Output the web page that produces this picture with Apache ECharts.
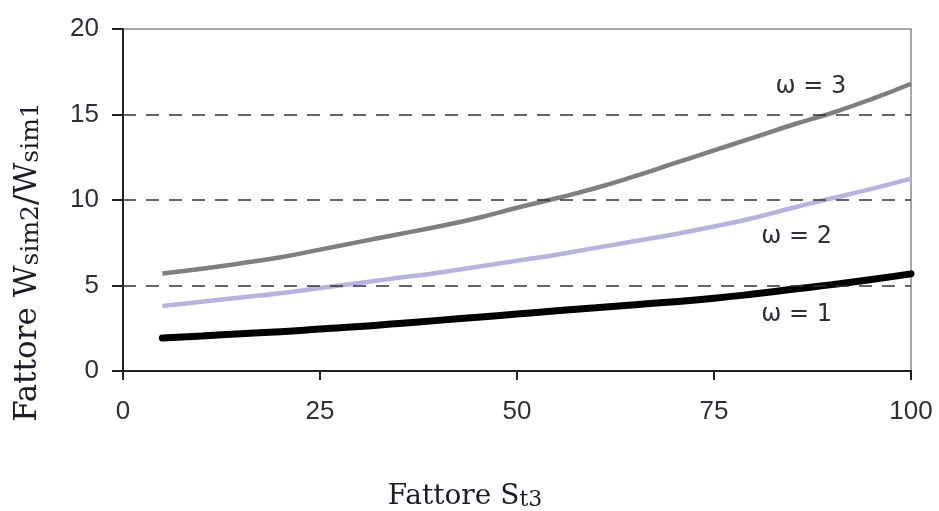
<!DOCTYPE html>
<html>
<head>
<meta charset="utf-8">
<script src="https://cdn.jsdelivr.net/npm/echarts@6/dist/echarts.min.js"></script>
<style>html,body{margin:0;padding:0;background:#fff}#c{width:939px;height:511px}</style>
</head>
<body>
<div id="c"></div>
<script>
var xValues = [5,10,15,20,25,30,35,40,45,50,55,60,65,70,75,80,85,90,95,100];
var omega1 = [1.93,2.05,2.18,2.3,2.45,2.6,2.78,2.96,3.14,3.33,3.52,3.7,3.88,4.05,4.25,4.5,4.78,5.05,5.35,5.68];
var omega2 = [3.8,4.05,4.3,4.55,4.85,5.15,5.45,5.75,6.1,6.45,6.8,7.2,7.6,8.0,8.45,8.95,9.55,10.1,10.65,11.25];
var omega3 = [5.7,5.98,6.3,6.65,7.1,7.55,8.0,8.45,8.95,9.55,10.1,10.7,11.4,12.15,12.9,13.65,14.4,15.1,15.9,16.8];
var gridLines = [5,10,15];
var seriesLabels = ['ω = 1','ω = 2','ω = 3'];
var labelCoords = [[85.5,3.27],[85.5,7.84],[87.3,16.6]];
var xTicks = [0,25,50,75,100];
var yTicks = [0,5,10,15,20];

function pairs(vals){ return xValues.map(function(x,i){return [x, vals[i]];}); }

var chart = echarts.init(document.getElementById('c'));
var tickFont = {fontFamily:'Liberation Sans', fontSize:26, color:'#2e2e38'};
var serif = 'DejaVu Serif';
var titleColor = '#1c1c28';
function mp(i){
  return {
    symbol:'circle', symbolSize:0, silent:true,
    label:{show:true, position:'inside', formatter:seriesLabels[i], fontFamily:'DejaVu Sans', fontSize:24, color:'#2e2e38'},
    data:[{coord:labelCoords[i]}]
  };
}
function richTitle(big, small){
  return {
    a:{fontFamily:serif, fontSize:big, lineHeight:big+6, verticalAlign:'bottom', fill:titleColor, color:titleColor},
    s:{fontFamily:serif, fontSize:small, lineHeight:small+5, verticalAlign:'bottom', fill:titleColor, color:titleColor}
  };
}
chart.setOption({
  animation:false,
  grid:{left:123, right:28, top:29, bottom:140, show:true, borderColor:'#8a8a8a', borderWidth:1.5, containLabel:false},
  xAxis:{type:'value', min:xTicks[0], max:xTicks[xTicks.length-1], interval:25,
    axisLine:{show:true, lineStyle:{color:'#222', width:2}},
    axisTick:{show:true, inside:false, length:9, lineStyle:{color:'#222', width:2}},
    axisLabel:Object.assign({margin:28}, tickFont),
    splitLine:{show:false}},
  yAxis:{type:'value', min:yTicks[0], max:yTicks[yTicks.length-1], interval:5,
    axisLine:{show:true, lineStyle:{color:'#222', width:2}},
    axisTick:{show:true, inside:false, length:11, lineStyle:{color:'#222', width:2}},
    axisLabel:Object.assign({margin:24}, tickFont),
    splitLine:{show:false}},
  graphic:[
    {type:'text', x:25, y:262, rotation:Math.PI/2,
      style:{text:'{a|Fattore W}{s|sim2}{a|/W}{s|sim1}', align:'center', verticalAlign:'middle', rich:richTitle(31,25)}},
    {type:'text', x:465, y:494,
      style:{text:'{a|Fattore S}{s|t3}', align:'center', verticalAlign:'middle', rich:richTitle(28,22)}}
  ],
  series:[
    {type:'line', data:[], z:1, silent:true,
      markLine:{silent:true, symbol:'none', label:{show:false},
        lineStyle:{color:'#333', width:1.6, type:[13,10]},
        data:gridLines.map(function(v){return {yAxis:v};})}},
    {type:'line', name:seriesLabels[1], data:pairs(omega2), smooth:true, symbol:'none', z:3,
      lineStyle:{color:'#b6b3e0', width:4.5}, markPoint:mp(1)},
    {type:'line', name:seriesLabels[2], data:pairs(omega3), smooth:true, symbol:'none', z:3,
      lineStyle:{color:'#7f7f7f', width:4.5}, markPoint:mp(2)},
    {type:'line', name:seriesLabels[0], data:pairs(omega1), smooth:true, symbol:'none', z:4,
      lineStyle:{color:'#000', width:7, cap:'round'}, markPoint:mp(0)}
  ]
});
</script>
</body>
</html>
